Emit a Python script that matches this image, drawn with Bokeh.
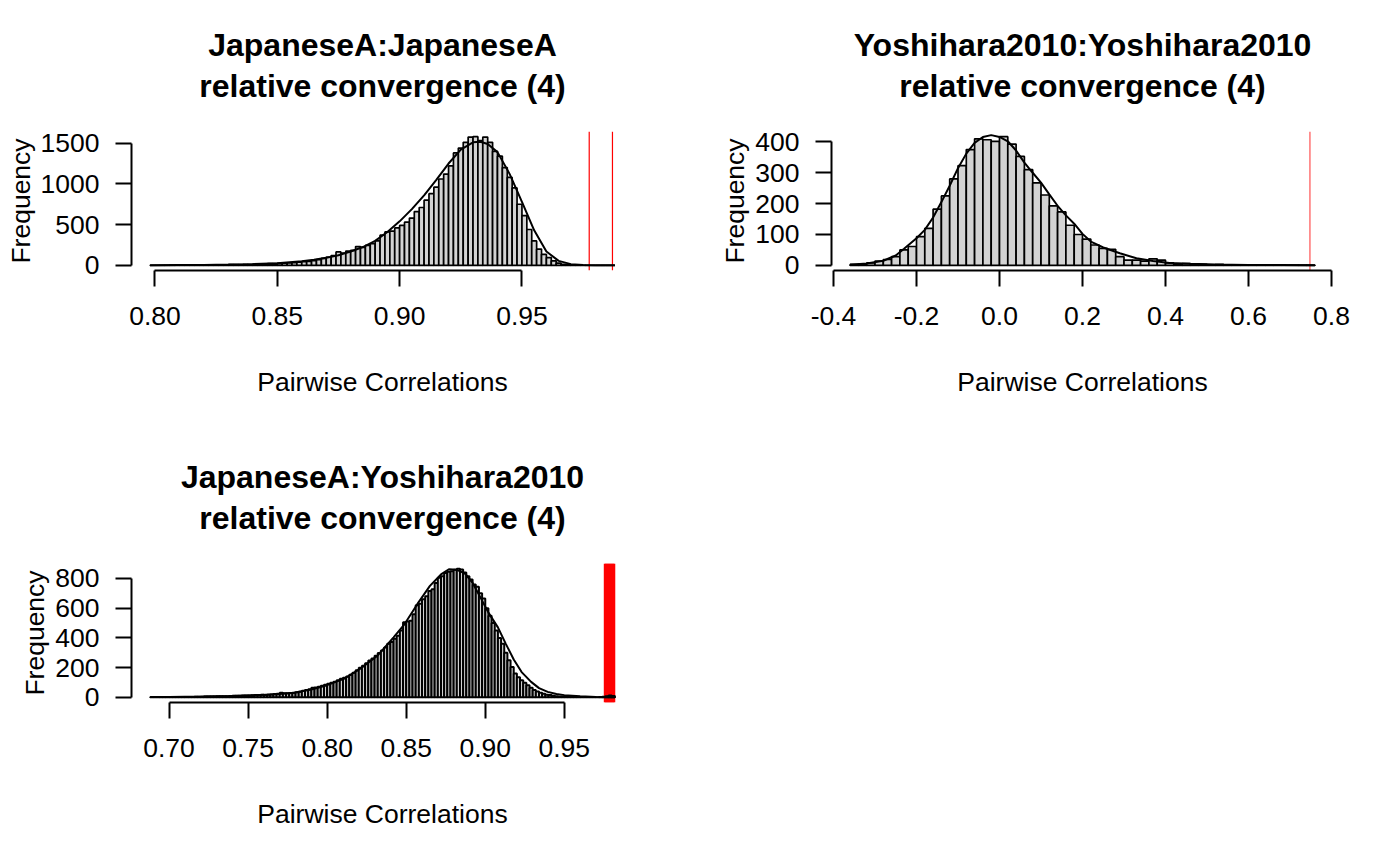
from bokeh.plotting import figure
from bokeh.models import ColumnDataSource, Span, Title, FixedTicker, PrintfTickFormatter, Range1d
from bokeh.layouts import column, row
from bokeh.embed import file_html
from bokeh.resources import INLINE

FONT = "Liberation Sans"

# ---------------- Panel 1 : JapaneseA:JapaneseA ----------------
p1_title = ["JapaneseA:JapaneseA", "relative convergence (4)"]
p1_bin_start = 0.798
p1_bin_width = 0.002
p1_counts = [1, 0, 1, 1, 2, 1, 2, 2, 3, 3, 4, 4, 5, 5, 6, 7, 8, 9, 10, 11, 13, 14, 16, 18, 20, 22,
             25, 28, 31, 34, 38, 45, 50, 58, 70, 85,
             100, 120, 165, 150, 175, 185, 230, 220, 245, 265,
             300, 370, 410, 420, 460, 490, 530, 580, 660, 710,
             800, 880, 960, 1060, 1120, 1220, 1380, 1440, 1510, 1575,
             1580, 1530, 1575, 1510, 1400, 1340, 1200, 1080, 950, 750,
             610, 440, 300, 200, 135, 95, 55, 28, 12, 6,
             3, 2, 1, 1, 0, 0, 0, 0, 0]
p1_curve_x = [0.798, 0.81, 0.82, 0.83, 0.84, 0.85, 0.86, 0.865, 0.87, 0.875, 0.88, 0.885, 0.89,
              0.895, 0.90, 0.905, 0.91, 0.915, 0.92, 0.925, 0.93, 0.933, 0.936, 0.94, 0.945,
              0.95, 0.955, 0.96, 0.965, 0.97, 0.975, 0.98, 0.985, 0.988]
p1_curve_y = [1, 3, 5, 9, 15, 27, 50, 68, 92, 125, 170, 225, 300,
              410, 540, 690, 860, 1050, 1250, 1420, 1510, 1518, 1490, 1390, 1120,
              780, 430, 170, 55, 15, 4, 1, 0, 0]
p1_red_lines = [0.9775, 0.987]
p1_xticks = [0.80, 0.85, 0.90, 0.95]
p1_yticks = [0, 500, 1000, 1500]

# ---------------- Panel 2 : Yoshihara2010:Yoshihara2010 ----------------
p2_title = ["Yoshihara2010:Yoshihara2010", "relative convergence (4)"]
p2_bin_start = -0.36
p2_bin_width = 0.02
p2_counts = [3, 4, 8, 14, 19, 28, 50, 61, 93, 120, 182, 225, 280, 323, 375, 410, 407, 402, 417, 393,
             353, 310, 267, 228, 193, 173, 130, 100,
             85, 66, 55, 52, 28, 17, 17, 14, 21, 17,
             8, 5, 6, 4, 3, 2, 3, 2, 2, 1, 1, 2, 1, 1, 0, 1, 1, 1]
p2_curve_x = [-0.36, -0.32, -0.28, -0.25, -0.23, -0.20, -0.18, -0.16, -0.14, -0.12, -0.10, -0.08,
              -0.06, -0.04, -0.02, 0.00, 0.02, 0.04, 0.06, 0.08, 0.10, 0.12, 0.14, 0.16, 0.18,
              0.20, 0.22, 0.25, 0.29, 0.33, 0.37, 0.41, 0.46, 0.52, 0.60, 0.68, 0.76]
p2_curve_y = [2, 6, 15, 32, 54, 88, 115, 155, 205, 258, 315, 362,
              397, 416, 422, 416, 402, 372, 333, 300, 268, 230, 193, 162, 135,
              102, 77, 58, 39, 23, 14, 8, 5, 3, 1.5, 1, 0.5]
p2_red_lines = [0.748]
p2_xticks = [-0.4, -0.2, 0.0, 0.2, 0.4, 0.6, 0.8]
p2_yticks = [0, 100, 200, 300, 400]

# ---------------- Panel 3 : JapaneseA:Yoshihara2010 ----------------
p3_title = ["JapaneseA:Yoshihara2010", "relative convergence (4)"]
p3_bin_start = 0.688
p3_bin_width = 0.002
p3_counts = [1, 0, 1, 1, 1, 2, 1, 2, 2, 2, 3, 2, 3, 3, 4, 4, 3, 5, 5, 6, 6,
             7, 7, 8, 8, 9, 10, 10, 11, 12, 12, 13, 14, 15, 15, 17,
             16, 18, 20, 22, 25, 31, 28, 27, 30, 31,
             34, 38, 44, 49, 55, 64, 66, 71, 78, 85,
             92, 98, 105, 115, 125, 132, 140, 152, 165, 182,
             200, 212, 230, 248, 262, 280, 298, 315, 335, 360,
             372, 395, 415, 450, 505, 510, 515, 560, 620, 630,
             660, 680, 715, 727, 770, 805, 815, 837, 845, 849,
             858, 866, 860, 840, 815, 793, 760, 745, 700, 665,
             600, 549, 500, 449, 400, 360, 300, 249, 205, 160,
             135, 115, 98, 82, 64, 50, 40, 31, 24, 18,
             15, 11, 8, 6, 5, 4, 3, 2, 2, 1,
             1, 0, 1, 0, 1, 1, 2, 4, 8, 12, 9]
p3_curve_x = [0.688, 0.70, 0.72, 0.74, 0.758, 0.77, 0.779, 0.79, 0.80, 0.811, 0.821, 0.832,
              0.842, 0.849, 0.857, 0.865, 0.872, 0.877, 0.882, 0.887, 0.892, 0.897, 0.902,
              0.908, 0.913, 0.918, 0.923, 0.929, 0.934, 0.9395, 0.945, 0.95, 0.96, 0.97, 0.982]
p3_curve_y = [2, 3, 5, 9, 15, 22, 31, 53, 82, 127, 193, 282,
              404, 493, 627, 750, 827, 862, 858, 835, 770, 671, 570,
              471, 360, 255, 170, 104, 62, 37, 22, 15, 7, 3, 1]
p3_red_lines = [0.9756, 0.9762, 0.9768, 0.9774, 0.9780, 0.9786, 0.9792, 0.9798, 0.9804, 0.9810, 0.9816]
p3_xticks = [0.70, 0.75, 0.80, 0.85, 0.90, 0.95]
p3_yticks = [0, 200, 400, 600, 800]

TICK_FS = "26.5px"
TITLE_FS = "32px"


def make_panel(title_lines, bin_start, bin_width, counts, curve_x, curve_y,
               red_lines, red_color, red_width, red_alpha, xticks, xfmt, yticks,
               width, height, b_left, b_right, b_top, b_bottom, bar_lw):
    n = len(counts)
    left = [bin_start + i * bin_width for i in range(n)]
    right = [bin_start + (i + 1) * bin_width for i in range(n)]
    lo, hi = bin_start, bin_start + n * bin_width
    pad = 0.04 * (hi - lo)
    ymax = max(counts)
    p = figure(width=width, height=height, output_backend="svg", toolbar_location=None,
               x_range=Range1d(lo - pad, hi + pad), y_range=Range1d(-0.04 * ymax, 1.04 * ymax),
               min_border_left=b_left, min_border_right=b_right,
               min_border_top=b_top, min_border_bottom=b_bottom)
    p.outline_line_color = None
    p.grid.visible = False
    p.background_fill_color = "white"
    p.border_fill_color = "white"

    for v in red_lines:
        p.add_layout(Span(location=v, dimension="height", line_color=red_color,
                          line_width=red_width, line_alpha=red_alpha, level="underlay"))

    src = ColumnDataSource(dict(left=left, right=right, top=counts, bottom=[0] * n))
    p.quad(left="left", right="right", top="top", bottom="bottom", source=src,
           fill_color="#D3D3D3", line_color="black", line_width=bar_lw)
    p.line(curve_x, curve_y, line_color="black", line_width=2)

    for ax in (p.xaxis[0], p.yaxis[0]):
        ax.axis_line_width = 2
        ax.axis_line_color = "black"
        ax.major_tick_line_width = 2
        ax.major_tick_line_color = "black"
        ax.major_tick_in = 0
        ax.major_tick_out = 16
        ax.minor_tick_line_color = None
        ax.major_label_text_font = FONT
        ax.major_label_text_font_size = TICK_FS
        ax.major_label_text_color = "black"
        ax.axis_label_text_font = FONT
        ax.axis_label_text_font_size = TICK_FS
        ax.axis_label_text_font_style = "normal"
        ax.axis_label_text_color = "black"

    p.xaxis.ticker = FixedTicker(ticks=xticks)
    p.xaxis.bounds = (xticks[0], xticks[-1])
    p.xaxis.formatter = PrintfTickFormatter(format=xfmt)
    p.xaxis.major_label_standoff = 20
    p.xaxis.axis_label = "Pairwise Correlations"
    p.xaxis.axis_label_standoff = 39

    p.yaxis.ticker = FixedTicker(ticks=yticks)
    p.yaxis.bounds = (yticks[0], yticks[-1])
    p.yaxis.major_label_standoff = 16
    p.yaxis.axis_label = "Frequency"
    p.yaxis.axis_label_standoff = 2

    # second title line first (closest to the frame), then the first line above it
    p.add_layout(Title(text=title_lines[1], align="center", text_font=FONT,
                       text_font_size=TITLE_FS, text_font_style="bold",
                       text_color="black", standoff=56), "above")
    p.add_layout(Title(text=title_lines[0], align="center", text_font=FONT,
                       text_font_size=TITLE_FS, text_font_style="bold",
                       text_color="black", standoff=-50), "above")
    return p


f1 = make_panel(p1_title, p1_bin_start, p1_bin_width, p1_counts, p1_curve_x, p1_curve_y,
                p1_red_lines, "red", 1.2, 1.0, p1_xticks, "%.2f", p1_yticks,
                700, 432, 131, 67, 131, 162, 1.7)
f2 = make_panel(p2_title, p2_bin_start, p2_bin_width, p2_counts, p2_curve_x, p2_curve_y,
                p2_red_lines, "red", 1.5, 0.55, p2_xticks, "%.1f", p2_yticks,
                700, 432, 131, 67, 131, 162, 1.7)
f3 = make_panel(p3_title, p3_bin_start, p3_bin_width, p3_counts, p3_curve_x, p3_curve_y,
                p3_red_lines, "red", 2.0, 1.0, p3_xticks, "%.2f", p3_yticks,
                700, 433, 131, 67, 131, 163, 2.0)

layout = column(row(f1, f2), f3)
open("out.html", "w").write(file_html(layout, INLINE))
